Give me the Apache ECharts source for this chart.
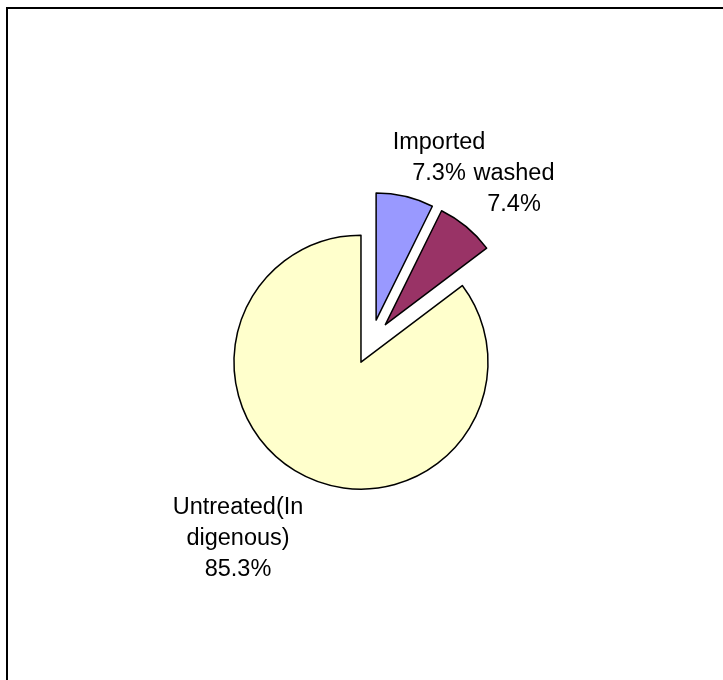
<!DOCTYPE html>
<html>
<head>
<meta charset="utf-8">
<title>Share of coal by type</title>
<script src="https://cdn.jsdelivr.net/npm/echarts@6/dist/echarts.min.js"></script>
<style>
  html, body { margin: 0; padding: 0; background: #fff; }
  #chart { width: 723px; height: 680px; }
</style>
</head>
<body>
<div id="chart"></div>
<script>
// Slice categories, their label text and shares (percent)
const categories = ['Imported', 'washed', 'Untreated(Indigenous)'];
const labelNames = ['Imported', 'washed', 'Untreated(In\ndigenous)'];
const shares = [7.3, 7.4, 85.3];
const colors = ['#9999FF', '#993366', '#FFFFCC'];

// Where each label block sits (centre of the text block)
const labelSpots = [
  { x: 439, y: 158 },
  { x: 514, y: 189 },
  { x: 238, y: 539 }
];

const pieCenter = [371, 342];
const pieRadius = 127;
const explode = 22.5;   // every slice is pulled out by this many pixels

const total = shares.reduce((a, b) => a + b, 0);

// One pie series per slice: the slice of interest is drawn, the rest are
// invisible placeholders, and the whole series is shifted along the slice's
// middle angle so it looks exploded.
let cum = 0;
const series = shares.map((v, i) => {
  const midFrac = (cum + v / 2) / total;
  cum += v;
  const theta = midFrac * 2 * Math.PI;            // clockwise from 12 o'clock
  const cx = pieCenter[0] + explode * Math.sin(theta);
  const cy = pieCenter[1] - explode * Math.cos(theta);
  return {
    type: 'pie',
    name: categories[i],
    center: [cx, cy],
    radius: pieRadius,
    startAngle: 90,
    clockwise: true,
    avoidLabelOverlap: false,
    emphasis: { disabled: true },
    labelLine: { show: false },
    data: categories.map((c, j) => {
      const visible = j === i;
      return {
        name: c,
        value: shares[j],
        itemStyle: visible
          ? { color: colors[j], borderColor: '#000', borderWidth: 1.5 }
          : { color: 'rgba(0,0,0,0)', borderWidth: 0 },
        label: visible
          ? {
              show: true,
              color: '#000',
              fontFamily: 'Liberation Sans, Arial, sans-serif',
              fontSize: 23.5,
              lineHeight: 31,
              align: 'center',
              formatter: p => labelNames[p.dataIndex] + '\n' + p.value.toFixed(1) + '%'
            }
          : { show: false }
      };
    }),
    labelLayout: p => (p.dataIndex === i ? {
      x: labelSpots[i].x,
      y: labelSpots[i].y,
      align: 'center',
      verticalAlign: 'middle'
    } : {})
  };
});

const chart = echarts.init(document.getElementById('chart'), null, { renderer: 'canvas' });

chart.setOption({
  animation: false,
  backgroundColor: '#ffffff',
  graphic: [{
    type: 'rect',
    shape: { x: 7, y: 8, width: 800, height: 800 },
    style: { fill: 'none', stroke: '#000', lineWidth: 2 },
    silent: true,
    z: 100
  }],
  series: series
});
</script>
</body>
</html>
